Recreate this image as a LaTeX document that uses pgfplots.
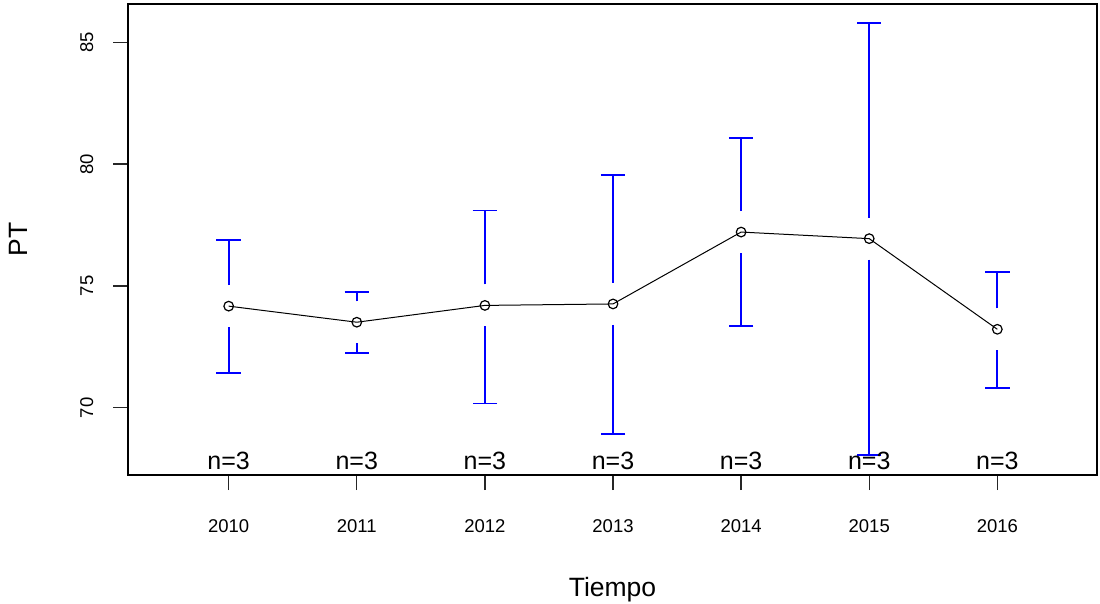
\documentclass[border=0pt]{standalone}
\usepackage{fontspec}
\setmainfont{Liberation Sans}
\usepackage{pgfplots}
\pgfplotsset{compat=1.18}
\begin{document}
\begin{tikzpicture}
\useasboundingbox (-128pt,-129pt) rectangle (972pt,475pt);
\begin{axis}[
    scale only axis,
    width=969pt, height=471pt,
    at={(0pt,0pt)}, anchor=south west,
    xmin=2009.214, xmax=2016.778,
    ymin=67.24, ymax=86.57,
    xtick={2010,2011,2012,2013,2014,2015,2016},
    ytick={70,75,80,85},
    tick pos=left,
    tick align=outside,
    major tick length=15pt,
    axis line style={line width=1.3pt},
    major tick style={line width=1.3pt, black!85},
    /pgf/number format/assume math mode=true,
    /pgf/number format/1000 sep={},
    xticklabel style={font=\fontsize{18.5}{20}\selectfont, anchor=base, yshift=-42pt},
    yticklabel style={font=\fontsize{18.5}{20}\selectfont, rotate=90, anchor=base, yshift=20pt},
    xlabel={Tiempo},
    ylabel={PT},
    xlabel style={font=\fontsize{26.5}{28}\selectfont, at={(axis description cs:0.5,-0.259)}, anchor=base},
    ylabel style={font=\fontsize{26.5}{28}\selectfont, at={(axis description cs:-0.1042,0.5)}, anchor=base},
]
% upper half of each bar (above the gap around the mean)
\addplot[draw=none, mark=none,
    error bars/.cd, y dir=plus, y explicit,
    error bar style={draw=blue, line width=1.7pt},
    error mark options={rotate=90, draw=blue, line width=1.7pt, mark size=12.2pt}]
    coordinates {
    (2010,75.03) +- (0,1.85)
    (2011,74.37) +- (0,0.37)
    (2012,75.06) +- (0,3.04)
    (2013,75.12) +- (0,4.43)
    (2014,78.07) +- (0,3.00)
    (2015,77.80) +- (0,7.98)
    (2016,74.08) +- (0,1.49)
    };
% lower half
\addplot[draw=none, mark=none,
    error bars/.cd, y dir=minus, y explicit,
    error bar style={draw=blue, line width=1.7pt},
    error mark options={rotate=90, draw=blue, line width=1.7pt, mark size=12.2pt}]
    coordinates {
    (2010,73.31) +- (0,1.89)
    (2011,72.65) +- (0,0.39)
    (2012,73.34) +- (0,3.16)
    (2013,73.40) +- (0,4.47)
    (2014,76.35) +- (0,2.99)
    (2015,76.08) +- (0,8.03)
    (2016,72.36) +- (0,1.54)
    };
% means
\addplot[black, line width=1pt, mark=o, mark size=4.8pt, mark options={line width=1.2pt}]
    coordinates {
    (2010,74.17) (2011,73.51) (2012,74.20) (2013,74.26)
    (2014,77.21) (2015,76.94) (2016,73.22)
    };
\foreach \yr in {2010,2011,2012,2013,2014,2015,2016}{
    \edef\tmp{\noexpand\node[anchor=base, font=\noexpand\fontsize{25}{27}\noexpand\selectfont] at (axis cs:\yr,67.475) {n=3};}
    \tmp
}
\end{axis}
\end{tikzpicture}
\end{document}
